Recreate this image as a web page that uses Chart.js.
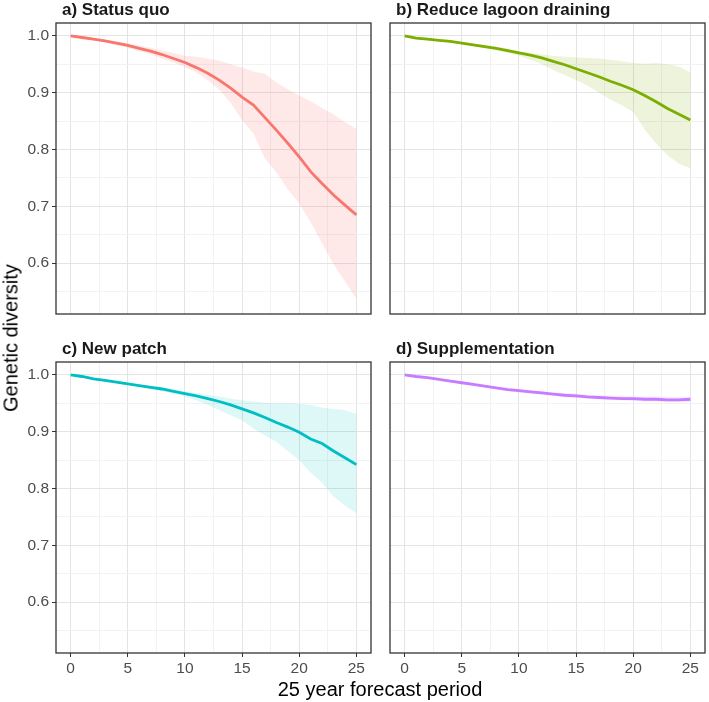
<!DOCTYPE html>
<html>
<head>
<meta charset="utf-8">
<script src="https://cdn.jsdelivr.net/npm/chart.js@4.4.0/dist/chart.umd.min.js"></script>
<style>
  body { margin: 0; background: #fff; }
  #wrap { position: relative; width: 709px; height: 702px; font-family: "Liberation Sans", Arial, sans-serif; }
  canvas { position: absolute; }
  .axis-title { position: absolute; font-size: 20px; color: #000; white-space: nowrap; }
  #ytitle { left: 11px; top: 338px; transform: translate(-50%, -50%) rotate(-90deg); }
  #xtitle { left: 380px; top: 689px; transform: translate(-50%, -50%); }
</style>
</head>
<body>
<div id="wrap">
  <canvas id="pa" width="375" height="330" style="left:0;top:0"></canvas>
  <canvas id="pb" width="334" height="330" style="left:375px;top:0"></canvas>
  <canvas id="pc" width="375" height="372" style="left:0;top:330px"></canvas>
  <canvas id="pd" width="334" height="372" style="left:375px;top:330px"></canvas>
  <div class="axis-title" id="ytitle">Genetic diversity</div>
  <div class="axis-title" id="xtitle">25 year forecast period</div>
</div>
<script>
// forecast years
var years = [0,1,2,3,4,5,6,7,8,9,10,11,12,13,14,15,16,17,18,19,20,21,22,23,24,25];

// a) Status quo
var statusQuoMean  = [1.000,0.997,0.994,0.991,0.987,0.983,0.978,0.973,0.967,0.960,0.953,0.944,0.934,0.922,0.908,0.892,0.878,0.856,0.834,0.811,0.787,0.761,0.740,0.720,0.702,0.685];
var statusQuoUpper = [1.000,0.998,0.996,0.993,0.990,0.987,0.983,0.979,0.974,0.970,0.965,0.963,0.960,0.956,0.950,0.944,0.937,0.933,0.918,0.906,0.895,0.885,0.873,0.862,0.848,0.836];
var statusQuoLower = [1.000,0.996,0.992,0.988,0.984,0.979,0.973,0.967,0.960,0.953,0.945,0.935,0.922,0.905,0.882,0.851,0.828,0.784,0.760,0.730,0.705,0.672,0.635,0.598,0.568,0.537];

// b) Reduce lagoon draining
var lagoonMean  = [1.000,0.996,0.994,0.992,0.990,0.987,0.984,0.981,0.978,0.974,0.970,0.966,0.961,0.955,0.949,0.942,0.935,0.928,0.920,0.913,0.905,0.895,0.884,0.872,0.862,0.852];
var lagoonUpper = [1.000,0.997,0.995,0.993,0.991,0.989,0.986,0.984,0.981,0.978,0.973,0.970,0.967,0.965,0.963,0.962,0.961,0.960,0.958,0.955,0.952,0.951,0.952,0.950,0.946,0.936];
var lagoonLower = [1.000,0.995,0.993,0.991,0.988,0.985,0.982,0.978,0.975,0.970,0.965,0.958,0.950,0.940,0.931,0.922,0.912,0.900,0.888,0.878,0.866,0.835,0.810,0.790,0.775,0.767];

// c) New patch
var patchMean  = [1.000,0.997,0.993,0.990,0.987,0.984,0.981,0.978,0.975,0.971,0.967,0.963,0.958,0.953,0.947,0.940,0.933,0.925,0.916,0.908,0.899,0.887,0.879,0.866,0.854,0.842];
var patchUpper = [1.000,0.998,0.995,0.992,0.989,0.986,0.983,0.981,0.978,0.975,0.971,0.968,0.965,0.962,0.958,0.955,0.953,0.951,0.950,0.950,0.949,0.947,0.942,0.940,0.938,0.931];
var patchLower = [1.000,0.996,0.992,0.988,0.985,0.982,0.979,0.975,0.971,0.967,0.962,0.955,0.947,0.938,0.929,0.920,0.905,0.893,0.882,0.866,0.849,0.828,0.810,0.786,0.770,0.756];

// d) Supplementation
var suppMean  = [1.000,0.997,0.995,0.992,0.989,0.986,0.983,0.980,0.977,0.974,0.972,0.970,0.968,0.966,0.964,0.963,0.961,0.960,0.959,0.958,0.958,0.957,0.957,0.956,0.956,0.957];
var suppUpper = [1.000,0.998,0.996,0.994,0.991,0.988,0.985,0.982,0.979,0.977,0.975,0.973,0.971,0.969,0.968,0.967,0.965,0.964,0.963,0.963,0.962,0.962,0.962,0.961,0.961,0.961];
var suppLower = [1.000,0.996,0.994,0.991,0.988,0.985,0.982,0.978,0.975,0.972,0.969,0.967,0.965,0.963,0.961,0.959,0.958,0.957,0.956,0.955,0.954,0.953,0.953,0.952,0.952,0.952];

var FONT = '"Liberation Sans", Arial, sans-serif';

function isMajor(v, step) {
    return Math.abs(v / step - Math.round(v / step)) < 1e-6;
}

function points(vals) {
    return years.map(function (x, i) { return { x: x, y: vals[i] }; });
}

// panel border + facet title
var framePlugin = {
    id: 'frame',
    afterDraw: function (chart) {
        var a = chart.chartArea, ctx = chart.ctx;
        ctx.save();
        ctx.strokeStyle = '#333333';
        ctx.lineWidth = 1.3;
        ctx.strokeRect(a.left, a.top, a.right - a.left, a.bottom - a.top);
        ctx.fillStyle = '#1a1a1a';
        ctx.font = 'bold 17px ' + FONT;
        ctx.textBaseline = 'alphabetic';
        ctx.fillText(chart.options.panelTitle, a.left + 6, a.top - 8);
        ctx.restore();
    }
};

function makePanel(id, title, color, band, mean, upper, lower, showX, showY) {
    var gridColor = function (step) {
        return function (c) {
            if (!c.tick) return '#ebebeb';
            return isMajor(c.tick.value, step) ? '#e4e4e4' : '#f2f2f2';
        };
    };
    var tickColor = function (step) {
        return function (c) {
            if (!c.tick) return '#333333';
            return isMajor(c.tick.value, step) ? '#333333' : 'rgba(0,0,0,0)';
        };
    };
    new Chart(document.getElementById(id), {
        type: 'line',
        data: {
            datasets: [
                { data: points(mean), borderColor: color, borderWidth: 2.8, pointRadius: 0, fill: false, tension: 0 },
                { data: points(upper), borderWidth: 0, pointRadius: 0, fill: '+1', backgroundColor: band },
                { data: points(lower), borderWidth: 0, pointRadius: 0, fill: false }
            ]
        },
        options: {
            panelTitle: title,
            responsive: false,
            animation: false,
            layout: { padding: { top: showX ? 32 : 23, right: 4, left: 0, bottom: 0 } },
            plugins: { legend: { display: false }, tooltip: { enabled: false } },
            scales: {
                x: {
                    // range not a whole number of steps, so ticks snap to multiples of 2.5
                    type: 'linear', min: -1.28, max: 26.28,
                    afterFit: function (s) { s.height = showX ? 49 : 16; },
                    border: { display: false },
                    grid: { color: gridColor(5), drawTicks: showX, tickLength: 4, tickWidth: 1, tickColor: tickColor(5) },
                    ticks: {
                        display: showX, stepSize: 2.5, includeBounds: false, maxTicksLimit: 50,
                        autoSkip: false, maxRotation: 0, padding: 2, color: '#4d4d4d',
                        font: { size: 15.5, family: FONT },
                        callback: function (v) { return isMajor(v, 5) ? String(Math.round(v)) : ''; }
                    }
                },
                y: {
                    min: 0.5105, max: 1.0225,
                    afterFit: function (s) { s.width = showY ? 56 : 15; },
                    border: { display: false },
                    grid: { color: gridColor(0.1), drawTicks: showY, tickLength: 4, tickWidth: 1, tickColor: tickColor(0.1) },
                    ticks: {
                        display: showY, stepSize: 0.05, includeBounds: false, maxTicksLimit: 50,
                        autoSkip: false, padding: 3, color: '#4d4d4d',
                        font: { size: 15.5, family: FONT },
                        callback: function (v) { return isMajor(v, 0.1) ? v.toFixed(1) : ''; }
                    }
                }
            }
        },
        plugins: [framePlugin]
    });
}

makePanel('pa', 'a) Status quo', '#F8766D', 'rgba(248,118,109,0.16)', statusQuoMean, statusQuoUpper, statusQuoLower, false, true);
makePanel('pb', 'b) Reduce lagoon draining', '#7CAE00', 'rgba(124,174,0,0.14)', lagoonMean, lagoonUpper, lagoonLower, false, false);
makePanel('pc', 'c) New patch', '#00BFC4', 'rgba(0,191,196,0.13)', patchMean, patchUpper, patchLower, true, true);
makePanel('pd', 'd) Supplementation', '#C77CFF', 'rgba(199,124,255,0.16)', suppMean, suppUpper, suppLower, true, false);
</script>
</body>
</html>
